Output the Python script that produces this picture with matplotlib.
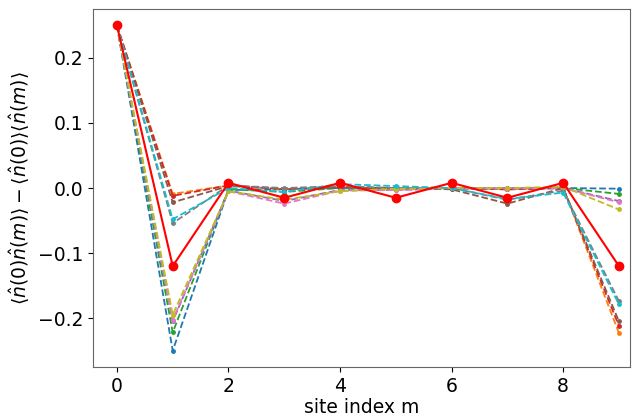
import numpy as np
import matplotlib
matplotlib.use("Agg")
import matplotlib.pyplot as plt

sites = np.arange(10)

# dashed curves, one per tab10 colour (C0..C9)
corr_c0 = [0.25, -0.250, -0.003, -0.002, 0.000, 0.000, 0.000, 0.000, 0.000, -0.001]
corr_c1 = [0.25, -0.009, 0.004, -0.002, 0.002, -0.001, 0.000, -0.002, 0.000, -0.223]
corr_c2 = [0.25, -0.222, -0.002, -0.006, 0.000, 0.000, 0.000, -0.002, 0.000, -0.009]
corr_c3 = [0.25, -0.012, 0.004, -0.002, 0.002, -0.001, 0.000, -0.002, 0.000, -0.212]
corr_c4 = [0.25, -0.205, -0.004, -0.020, -0.003, -0.003, -0.001, 0.000, 0.000, -0.020]
corr_c5 = [0.25, -0.022, 0.003, -0.001, 0.001, 0.000, -0.002, -0.024, 0.000, -0.205]
corr_c6 = [0.25, -0.203, -0.005, -0.024, -0.004, -0.003, 0.000, -0.001, 0.000, -0.022]
corr_c7 = [0.25, -0.054, 0.004, 0.000, 0.003, 0.000, 0.000, -0.018, -0.004, -0.174]
corr_c8 = [0.25, -0.195, -0.005, -0.018, -0.005, -0.001, 0.000, 0.000, 0.002, -0.033]
corr_c9 = [0.25, -0.048, 0.000, -0.006, 0.006, 0.003, 0.000, -0.017, -0.007, -0.179]

# solid red reference curve
corr_ref = [0.25, -0.120, 0.008, -0.015, 0.008, -0.015, 0.008, -0.015, 0.008, -0.120]

dashed = [corr_c0, corr_c1, corr_c2, corr_c3, corr_c4,
          corr_c5, corr_c6, corr_c7, corr_c8, corr_c9]

fig = plt.figure(figsize=(6.41, 4.16), dpi=100)
ax = fig.add_axes([0.145, 0.118, 0.838, 0.860])

for i, vals in enumerate(dashed):
    ax.plot(sites, vals, "--", marker=".", color=f"C{i}", linewidth=1.3, markersize=5)

ax.plot(sites, corr_ref, "-", marker="o", color="red", linewidth=1.5, markersize=6)

ax.set_xlim(-0.43, 9.2)
ax.set_ylim(-0.275, 0.275)
ax.set_xticks([0, 2, 4, 6, 8])
ax.set_yticks([-0.2, -0.1, 0.0, 0.1, 0.2])
ax.tick_params(labelsize=13.5)
ax.set_xlabel("site index m", fontsize=13.5, labelpad=2)
ax.set_ylabel(r"$\langle \hat{n}(0)\hat{n}(m)\rangle - \langle \hat{n}(0)\rangle\langle \hat{n}(m)\rangle$",
              fontsize=13.5)
for s in ax.spines.values():
    s.set_color("0.4")

fig.savefig("out.png", dpi=100)
